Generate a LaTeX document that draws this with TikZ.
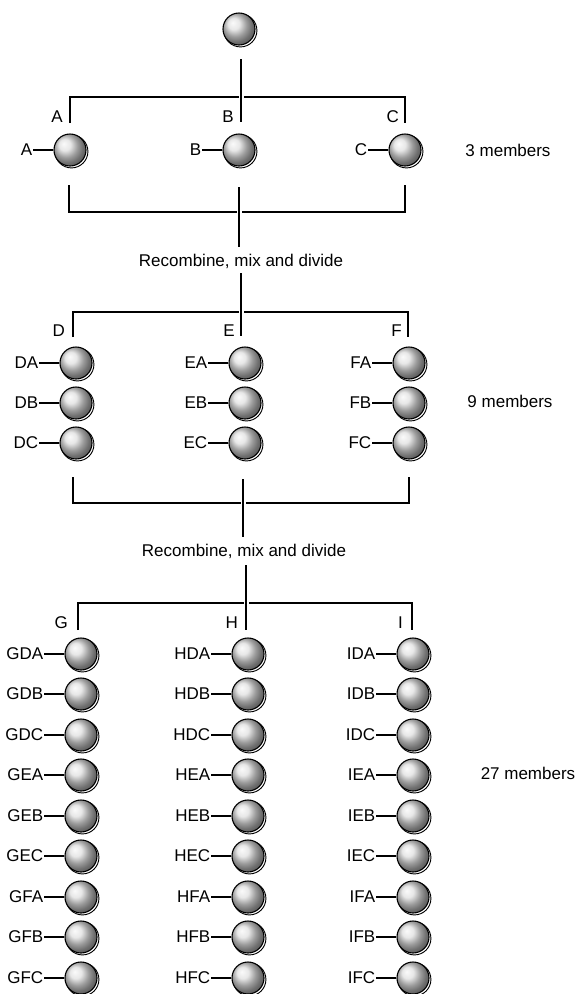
\documentclass[tikz,border=0pt]{standalone}
\usepackage{fontspec}
\setmainfont{Liberation Sans}
\usetikzlibrary{positioning, shadows}
\tikzstyle{bead} = [circle, minimum size=32pt, inner sep=0pt, draw=black, line width=1.1pt, ball color=gray!25, drop shadow={shadow xshift=1.4pt, shadow yshift=-1.4pt, shadow scale=1.03, fill=white, draw=black, line width=0.9pt, opacity=1}]
\tikzstyle{tag} = [inner sep=1pt]
\tikzstyle{link} = [draw, line width=1.2pt]
\tikzstyle{bar} = [draw, line width=1.2pt]
\tikzstyle{cross} = [draw, line width=1.2pt, preaction={draw=white, line width=5pt}]

\begin{document}
\begin{tikzpicture}[x=1pt, y=1pt, font=\fontsize{17pt}{20pt}\selectfont]
\useasboundingbox (0,0) rectangle (578,-994);
\clip (0,0) rectangle (578,-994);

% Origin
\node (origin) [bead] at (239,-29) {};

% First division
\draw [bar] (70,-123) -- (70,-97) -- (405,-97) -- (405,-123);
\draw [cross] (241,-59) -- (241,-122);
\node (a) [anchor=base east, inner sep=0pt] at (63,-122) {A};
\node (b) [anchor=base east, inner sep=0pt] at (234,-122) {B};
\node (c) [anchor=base east, inner sep=0pt] at (399,-122) {C};

\node (ba) [bead] at (70,-150) {};
\node (batag) [tag, left=20pt of ba] {A};
\draw [link] (batag) -- (ba);
\node (bb) [bead] at (239,-150) {};
\node (bbtag) [tag, left=20pt of bb] {B};
\draw [link] (bbtag) -- (bb);
\node (bc) [bead] at (405,-150) {};
\node (bctag) [tag, left=20pt of bc] {C};
\draw [link] (bctag) -- (bc);
\node (three) at (508,-150) {3 members};

\draw [bar] (69,-185) -- (69,-212) -- (405,-212) -- (405,-185);
\draw [cross] (239,-187) -- (239,-247);
\node (mix1) at (241,-261) {Recombine, mix and divide};

% Second division
\draw [bar] (73,-337) -- (73,-312) -- (408,-312) -- (408,-337);
\draw [cross] (241,-273) -- (241,-336);
\node (d) [anchor=base east, inner sep=0pt] at (65,-336) {D};
\node (e) [anchor=base east, inner sep=0pt] at (235,-336) {E};
\node (f) [anchor=base east, inner sep=0pt] at (402,-336) {F};

\node (da) [bead] at (76,-363) {};
\node (datag) [tag, left=20pt of da] {DA};
\draw [link] (datag) -- (da);
\node (db) [bead] at (76,-403) {};
\node (dbtag) [tag, left=20pt of db] {DB};
\draw [link] (dbtag) -- (db);
\node (dc) [bead] at (76,-443) {};
\node (dctag) [tag, left=20pt of dc] {DC};
\draw [link] (dctag) -- (dc);

\node (ea) [bead] at (245,-363) {};
\node (eatag) [tag, left=20pt of ea] {EA};
\draw [link] (eatag) -- (ea);
\node (eb) [bead] at (245,-403) {};
\node (ebtag) [tag, left=20pt of eb] {EB};
\draw [link] (ebtag) -- (eb);
\node (ec) [bead] at (245,-443) {};
\node (ectag) [tag, left=20pt of ec] {EC};
\draw [link] (ectag) -- (ec);

\node (fa) [bead] at (409,-363) {};
\node (fatag) [tag, left=20pt of fa] {FA};
\draw [link] (fatag) -- (fa);
\node (fb) [bead] at (409,-403) {};
\node (fbtag) [tag, left=20pt of fb] {FB};
\draw [link] (fbtag) -- (fb);
\node (fc) [bead] at (409,-443) {};
\node (fctag) [tag, left=20pt of fc] {FC};
\draw [link] (fctag) -- (fc);
\node (nine) at (510,-401) {9 members};

\draw [bar] (73,-477) -- (73,-503) -- (409,-503) -- (409,-477);
\draw [cross] (243,-479) -- (243,-537);
\node (mix2) at (244,-551) {Recombine, mix and divide};

% Third division
\draw [bar] (78,-630) -- (78,-603) -- (412,-603) -- (412,-630);
\draw [cross] (246,-565) -- (246,-630);
\node (g) [anchor=base east, inner sep=0pt] at (68,-628) {G};
\node (h) [anchor=base east, inner sep=0pt] at (238,-628) {H};
\node (i) [anchor=base east, inner sep=0pt] at (403,-628) {I};

\node (gda) [bead] at (81,-654) {};
\node (gdatag) [tag, left=20pt of gda] {GDA};
\draw [link] (gdatag) -- (gda);
\node (gdb) [bead] at (81,-694) {};
\node (gdbtag) [tag, left=20pt of gdb] {GDB};
\draw [link] (gdbtag) -- (gdb);
\node (gdc) [bead] at (81,-735) {};
\node (gdctag) [tag, left=20pt of gdc] {GDC};
\draw [link] (gdctag) -- (gdc);
\node (gea) [bead] at (81,-775) {};
\node (geatag) [tag, left=20pt of gea] {GEA};
\draw [link] (geatag) -- (gea);
\node (geb) [bead] at (81,-816) {};
\node (gebtag) [tag, left=20pt of geb] {GEB};
\draw [link] (gebtag) -- (geb);
\node (gec) [bead] at (81,-856) {};
\node (gectag) [tag, left=20pt of gec] {GEC};
\draw [link] (gectag) -- (gec);
\node (gfa) [bead] at (81,-897) {};
\node (gfatag) [tag, left=20pt of gfa] {GFA};
\draw [link] (gfatag) -- (gfa);
\node (gfb) [bead] at (81,-937) {};
\node (gfbtag) [tag, left=20pt of gfb] {GFB};
\draw [link] (gfbtag) -- (gfb);
\node (gfc) [bead] at (81,-978) {};
\node (gfctag) [tag, left=20pt of gfc] {GFC};
\draw [link] (gfctag) -- (gfc);

\node (hda) [bead] at (248,-654) {};
\node (hdatag) [tag, left=20pt of hda] {HDA};
\draw [link] (hdatag) -- (hda);
\node (hdb) [bead] at (248,-694) {};
\node (hdbtag) [tag, left=20pt of hdb] {HDB};
\draw [link] (hdbtag) -- (hdb);
\node (hdc) [bead] at (248,-735) {};
\node (hdctag) [tag, left=20pt of hdc] {HDC};
\draw [link] (hdctag) -- (hdc);
\node (hea) [bead] at (248,-775) {};
\node (heatag) [tag, left=20pt of hea] {HEA};
\draw [link] (heatag) -- (hea);
\node (heb) [bead] at (248,-816) {};
\node (hebtag) [tag, left=20pt of heb] {HEB};
\draw [link] (hebtag) -- (heb);
\node (hec) [bead] at (248,-856) {};
\node (hectag) [tag, left=20pt of hec] {HEC};
\draw [link] (hectag) -- (hec);
\node (hfa) [bead] at (248,-897) {};
\node (hfatag) [tag, left=20pt of hfa] {HFA};
\draw [link] (hfatag) -- (hfa);
\node (hfb) [bead] at (248,-937) {};
\node (hfbtag) [tag, left=20pt of hfb] {HFB};
\draw [link] (hfbtag) -- (hfb);
\node (hfc) [bead] at (248,-978) {};
\node (hfctag) [tag, left=20pt of hfc] {HFC};
\draw [link] (hfctag) -- (hfc);

\node (ida) [bead] at (413,-654) {};
\node (idatag) [tag, left=20pt of ida] {IDA};
\draw [link] (idatag) -- (ida);
\node (idb) [bead] at (413,-694) {};
\node (idbtag) [tag, left=20pt of idb] {IDB};
\draw [link] (idbtag) -- (idb);
\node (idc) [bead] at (413,-735) {};
\node (idctag) [tag, left=20pt of idc] {IDC};
\draw [link] (idctag) -- (idc);
\node (iea) [bead] at (413,-775) {};
\node (ieatag) [tag, left=20pt of iea] {IEA};
\draw [link] (ieatag) -- (iea);
\node (ieb) [bead] at (413,-816) {};
\node (iebtag) [tag, left=20pt of ieb] {IEB};
\draw [link] (iebtag) -- (ieb);
\node (iec) [bead] at (413,-856) {};
\node (iectag) [tag, left=20pt of iec] {IEC};
\draw [link] (iectag) -- (iec);
\node (ifa) [bead] at (413,-897) {};
\node (ifatag) [tag, left=20pt of ifa] {IFA};
\draw [link] (ifatag) -- (ifa);
\node (ifb) [bead] at (413,-937) {};
\node (ifbtag) [tag, left=20pt of ifb] {IFB};
\draw [link] (ifbtag) -- (ifb);
\node (ifc) [bead] at (413,-978) {};
\node (ifctag) [tag, left=20pt of ifc] {IFC};
\draw [link] (ifctag) -- (ifc);
\node (twentyseven) at (528,-773) {27 members};

\end{tikzpicture}
\end{document}
